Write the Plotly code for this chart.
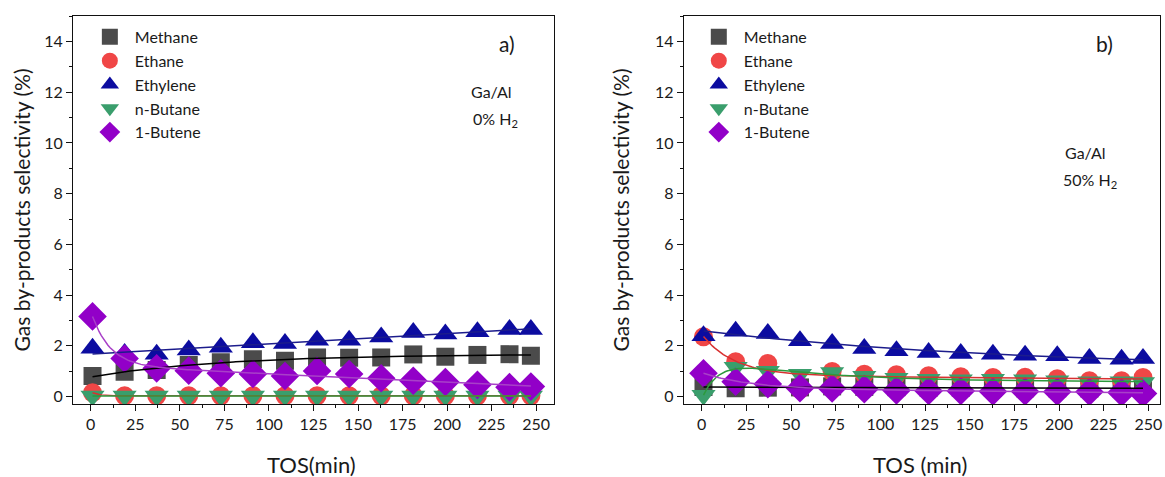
import numpy as np
import plotly.graph_objects as go

# Time on stream (min)
tos = [1, 19, 37, 55, 73, 91, 109, 127, 145, 163, 181, 199, 217, 235, 247]

# a) Ga/Al, 0% H2 -- selectivity (%)
methane_a = [0.81, 0.98, 1.05, 1.24, 1.35, 1.47, 1.41, 1.54, 1.53, 1.54, 1.66, 1.57, 1.64, 1.67, 1.61]
ethane_a = [0.15, 0.03, 0.03, 0.03, 0.03, 0.03, 0.03, 0.03, 0.03, 0.03, 0.03, 0.03, 0.03, 0.03, 0.03]
ethylene_a = [1.90, 1.70, 1.67, 1.83, 1.94, 2.12, 2.09, 2.22, 2.22, 2.35, 2.52, 2.47, 2.55, 2.64, 2.64]
nbutane_a = [0.02, 0.02, 0.02, 0.02, 0.02, 0.02, 0.02, 0.02, 0.02, 0.02, 0.02, 0.02, 0.02, 0.02, 0.02]
butene_a = [3.16, 1.50, 1.11, 1.02, 0.92, 0.89, 0.81, 1.01, 0.89, 0.72, 0.62, 0.57, 0.46, 0.37, 0.39]

# b) Ga/Al, 50% H2 -- selectivity (%)
methane_b = [0.38, 0.33, 0.35, 0.36, 0.40, 0.38, 0.37, 0.35, 0.35, 0.34, 0.33, 0.33, 0.32, 0.32, 0.33]
ethane_b = [2.36, 1.37, 1.30, 0.29, 0.99, 0.88, 0.86, 0.82, 0.78, 0.75, 0.76, 0.70, 0.62, 0.62, 0.75]
ethylene_b = [2.40, 2.57, 2.49, 2.20, 2.09, 1.89, 1.80, 1.74, 1.70, 1.67, 1.63, 1.61, 1.50, 1.47, 1.50]
nbutane_b = [0.05, 1.15, 1.00, 0.88, 0.95, 0.80, 0.72, 0.68, 0.66, 0.68, 0.66, 0.62, 0.58, 0.58, 0.55]
butene_b = [0.92, 0.58, 0.49, 0.33, 0.32, 0.29, 0.24, 0.22, 0.22, 0.20, 0.20, 0.19, 0.19, 0.16, 0.12]

x_ticks = [0, 25, 50, 75, 100, 125, 150, 175, 200, 225, 250]
y_ticks = [0, 2, 4, 6, 8, 10, 12, 14]

FONT = "Lato"
names = ["Methane", "Ethane", "Ethylene", "n-Butane", "1-Butene"]
symbols = ["square", "circle", "triangle-up", "triangle-down", "diamond"]
sizes = [18, 19, 21, 21, 22]
marker_colors = ["#4b4b4b", "#f04646", "#0c0ca0", "#3a9e6c", "#9200c8"]
line_colors = ["#000000", "#d83030", "#1c1c8c", "#2c9a3c", "#a840c8"]


def exp_fit(x, y, n_terms, tau_min=4.0):
    """Least-squares fit y = a + sum(b_i * exp(-x / tau_i)) over a grid of tau values."""
    x = np.asarray(x, float)
    y = np.asarray(y, float)
    taus = np.geomspace(tau_min, 4000, 60)
    best = None
    if n_terms == 1:
        combos = [(t,) for t in taus]
    else:
        combos = [(t1, t2) for i, t1 in enumerate(taus) for t2 in taus[i + 1:]]
    for combo in combos:
        A = np.column_stack([np.ones_like(x)] + [np.exp(-x / t) for t in combo])
        coef, *_ = np.linalg.lstsq(A, y, rcond=None)
        sse = float(np.sum((A @ coef - y) ** 2))
        if best is None or sse < best[0]:
            best = (sse, combo, coef)
    _, combo, coef = best
    xs = np.linspace(x[0], x[-1], 200)
    A = np.column_stack([np.ones_like(xs)] + [np.exp(-xs / t) for t in combo])
    return xs, A @ coef


fig = go.Figure()

panels = [
    ("x", "y", "legend", [methane_a, ethane_a, ethylene_a, nbutane_a, butene_a],
     [(1, 4), (1, 4), (1, 4), (1, 4), (2, 4)]),
    ("x2", "y2", "legend2", [methane_b, ethane_b, ethylene_b, nbutane_b, butene_b],
     [(1, 4), (2, 6), (1, 4), (2, 9), (2, 4)]),
]

for xa, ya, leg, series, fits in panels:
    for name, sym, sz, mc, vals in zip(names, symbols, sizes, marker_colors, series):
        fig.add_trace(go.Scatter(
            x=tos, y=vals, mode="markers", name=name, legend=leg,
            xaxis=xa, yaxis=ya,
            marker=dict(symbol=sym, size=sz, color=mc, line=dict(width=0)),
        ))
    for lc, vals, (nt, tmin) in zip(line_colors, series, fits):
        xs, ys = exp_fit(tos, vals, nt, tmin)
        fig.add_trace(go.Scatter(
            x=xs, y=ys, mode="lines", showlegend=False, hoverinfo="skip",
            xaxis=xa, yaxis=ya, line=dict(color=lc, width=1.5),
        ))

axis_common = dict(
    showline=True, linecolor="#111111", linewidth=1, mirror=True,
    ticks="outside", ticklen=6, tickwidth=1, tickcolor="#111111",
    showgrid=False, zeroline=False,
    tickfont=dict(family=FONT, size=16, color="#1a1a1a"),
)

fig.update_layout(
    width=1165, height=477,
    margin=dict(l=0, r=0, t=0, b=0),
    paper_bgcolor="white", plot_bgcolor="white",
    font=dict(family=FONT, color="#1a1a1a"),
    xaxis=dict(domain=[0.0627, 0.4764], range=[-10, 260], tickvals=x_ticks,
               minor=dict(ticks="outside", ticklen=3, dtick=12.5, tick0=0, tickcolor="#111111"),
               anchor="y", **axis_common),
    yaxis=dict(domain=[0.151, 0.966], range=[-0.3, 15], tickvals=y_ticks,
               minor=dict(ticks="outside", ticklen=3, dtick=1, tick0=0, tickcolor="#111111"),
               anchor="x", **axis_common),
    xaxis2=dict(domain=[0.588, 0.9974], range=[-10, 256.5], tickvals=x_ticks,
                minor=dict(ticks="outside", ticklen=3, dtick=12.5, tick0=0, tickcolor="#111111"),
                anchor="y2", **axis_common),
    yaxis2=dict(domain=[0.151, 0.966], range=[-0.3, 15], tickvals=y_ticks,
                minor=dict(ticks="outside", ticklen=3, dtick=1, tick0=0, tickcolor="#111111"),
                anchor="x2", **axis_common),
    legend=dict(x=85 / 1165, y=1 - 20 / 477, xanchor="left", yanchor="top",
                bgcolor="rgba(0,0,0,0)", itemwidth=40,
                font=dict(family=FONT, size=16, color="#1a1a1a")),
    legend2=dict(x=695 / 1165, y=1 - 20 / 477, xanchor="left", yanchor="top",
                 bgcolor="rgba(0,0,0,0)", itemwidth=40,
                 font=dict(family=FONT, size=16, color="#1a1a1a")),
    showlegend=True,
)


def px(xp, yp):
    return xp / 1165, 1 - yp / 477


annots = [
    # axis titles
    (22, 210, "Gas by-products selectivity (%)", 21, -90, "center"),
    (622, 210, "Gas by-products selectivity (%)", 21, -90, "center"),
    (312, 465, "TOS(min)", 22, 0, "center"),
    (922, 465, "TOS (min)", 22, 0, "center"),
    # panel labels
    (508, 44, "a)", 21, 0, "center"),
    (1106, 44, "b)", 21, 0, "center"),
    (470, 92, "Ga/Al", 16, 0, "left"),
    (472, 120, "0% H<sub>2</sub>", 16, 0, "left"),
    (1065, 153, "Ga/Al", 16, 0, "left"),
    (1063, 181, "50% H<sub>2</sub>", 16, 0, "left"),
]
for xp, yp, text, size, angle, anchor in annots:
    ax, ay = px(xp, yp)
    fig.add_annotation(x=ax, y=ay, xref="paper", yref="paper", text=text,
                       showarrow=False, textangle=angle, xanchor=anchor, yanchor="middle",
                       font=dict(family=FONT, size=size, color="#1a1a1a"))

fig.write_html("out.html")
